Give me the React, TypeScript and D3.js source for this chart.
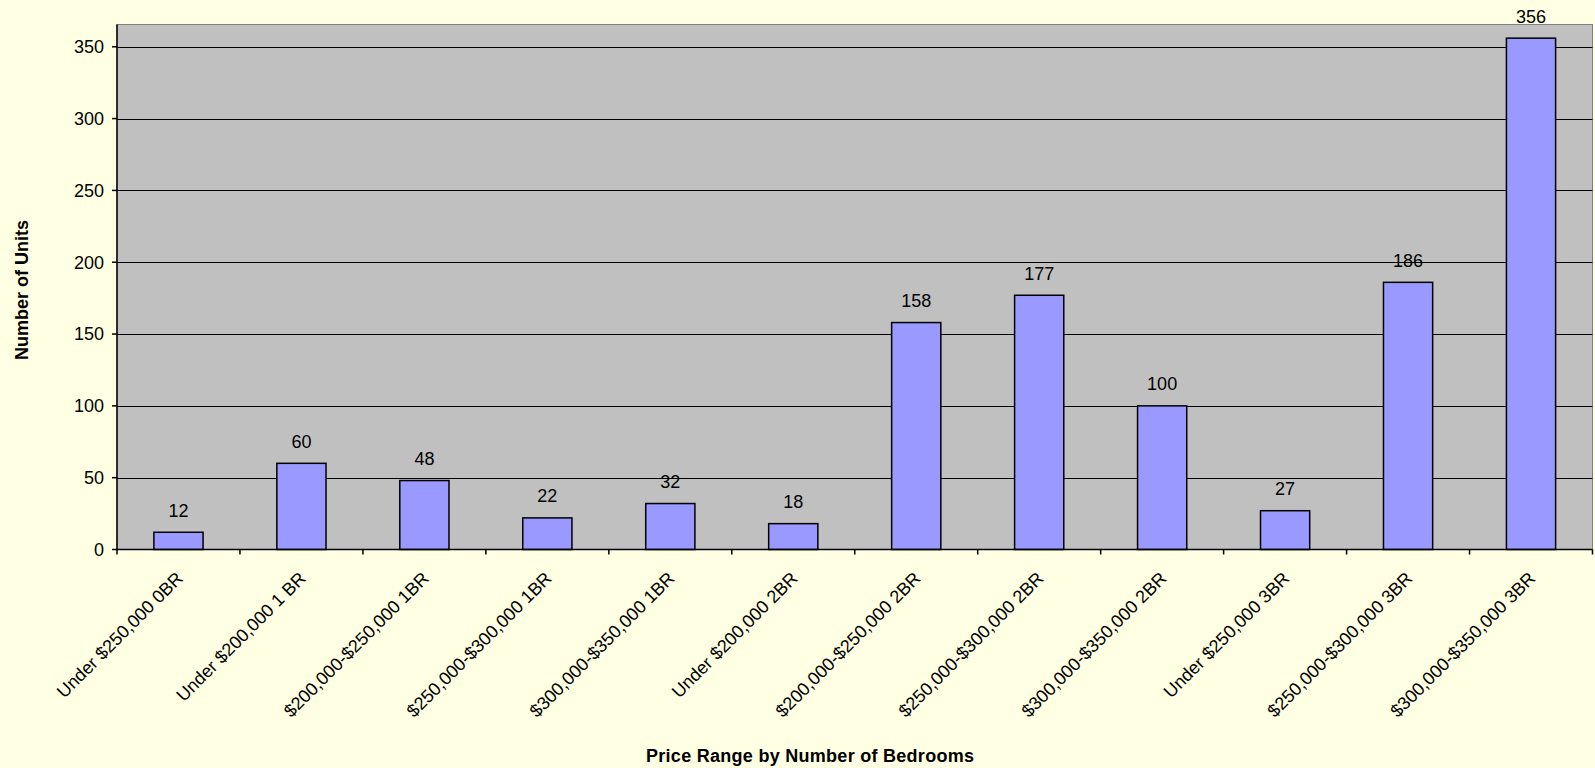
import React from "react";
import * as d3 from "d3";

const categories = [
  "Under $250,000 0BR",
  "Under $200,000 1 BR",
  "$200,000-$250,000 1BR",
  "$250,000-$300,000 1BR",
  "$300,000-$350,000 1BR",
  "Under $200,000 2BR",
  "$200,000-$250,000 2BR",
  "$250,000-$300,000 2BR",
  "$300,000-$350,000 2BR",
  "Under $250,000 3BR",
  "$250,000-$300,000 3BR",
  "$300,000-$350,000 3BR",
];
const units = [12, 60, 48, 22, 32, 18, 158, 177, 100, 27, 186, 356];
const yTicks = [0, 50, 100, 150, 200, 250, 300, 350];
const xTitle = "Price Range by Number of Bedrooms";
const yTitle = "Number of Units";

const W = 1595;
const H = 768;
const plot = { left: 117, right: 1592.5, top: 24.5, bottom: 549.5 };
const font = "'Liberation Sans', Arial, sans-serif";

export default function App() {
  const x = d3
    .scaleBand<string>()
    .domain(categories)
    .range([plot.left, plot.right])
    .paddingInner(0.6)
    .paddingOuter(0.3);
  const y = d3.scaleLinear().domain([0, 365.5]).range([plot.bottom, plot.top]);
  const step = x.step();
  const boundaries = d3.range(categories.length + 1).map((i) => plot.left + i * step);

  return (
    <svg
      width={W}
      height={H}
      style={{ position: "fixed", left: 0, top: 0, display: "block" }}
      fontFamily={font}
    >
      <rect x={0} y={0} width={W} height={H} fill="#FFFFE3" />
      <rect
        x={plot.left}
        y={plot.top}
        width={plot.right - plot.left}
        height={plot.bottom - plot.top}
        fill="#C0C0C0"
        stroke="#808080"
        strokeWidth={1}
      />
      {yTicks
        .filter((t) => t > 0)
        .map((t) => (
          <line
            key={"g" + t}
            x1={plot.left}
            x2={plot.right}
            y1={Math.round(y(t)) + 0.5}
            y2={Math.round(y(t)) + 0.5}
            stroke="#000"
            strokeWidth={1}
          />
        ))}
      {categories.map((c, i) => (
        <rect
          key={"b" + i}
          x={x(c)!}
          y={y(units[i])}
          width={x.bandwidth()}
          height={y(0) - y(units[i])}
          fill="#9999FF"
          stroke="#000"
          strokeWidth={1.5}
        />
      ))}
      {/* axes */}
      <line x1={plot.left} x2={plot.left} y1={plot.top} y2={plot.bottom} stroke="#000" strokeWidth={1.5} />
      <line x1={plot.left} x2={plot.right} y1={plot.bottom} y2={plot.bottom} stroke="#000" strokeWidth={1.5} />
      {yTicks.map((t) => (
        <g key={"yt" + t}>
          <line x1={plot.left - 5} x2={plot.left} y1={y(t)} y2={y(t)} stroke="#000" strokeWidth={1.5} />
          <text
            x={104}
            y={y(t)}
            dy="0.35em"
            textAnchor="end"
            fontSize={18}
            fill="#000"
          >
            {t}
          </text>
        </g>
      ))}
      {boundaries.map((bx, i) => (
        <line key={"xt" + i} x1={bx} x2={bx} y1={plot.bottom} y2={plot.bottom + 5} stroke="#000" strokeWidth={1.5} />
      ))}
      {categories.map((c, i) => {
        const cx = x(c)! + x.bandwidth() / 2;
        return (
          <text
            key={"xl" + i}
            transform={`translate(${cx + 1},${575}) rotate(-45)`}
            dy="0.35em"
            textAnchor="end"
            fontSize={18}
            fill="#000"
          >
            {c}
          </text>
        );
      })}
      {categories.map((c, i) => (
        <text
          key={"v" + i}
          x={x(c)! + x.bandwidth() / 2}
          y={y(units[i]) - 15.5}
          textAnchor="middle"
          fontSize={18}
          fill="#000"
        >
          {units[i]}
        </text>
      ))}
      <text
        x={810}
        y={762}
        textAnchor="middle"
        fontSize={18}
        fontWeight="bold"
        fill="#000"
        textLength={328}
      >
        {xTitle}
      </text>
      <text
        transform={`translate(28,${(plot.top + plot.bottom) / 2 + 3}) rotate(-90)`}
        textAnchor="middle"
        fontSize={18}
        fontWeight="bold"
        fill="#000"
      >
        {yTitle}
      </text>
    </svg>
  );
}
